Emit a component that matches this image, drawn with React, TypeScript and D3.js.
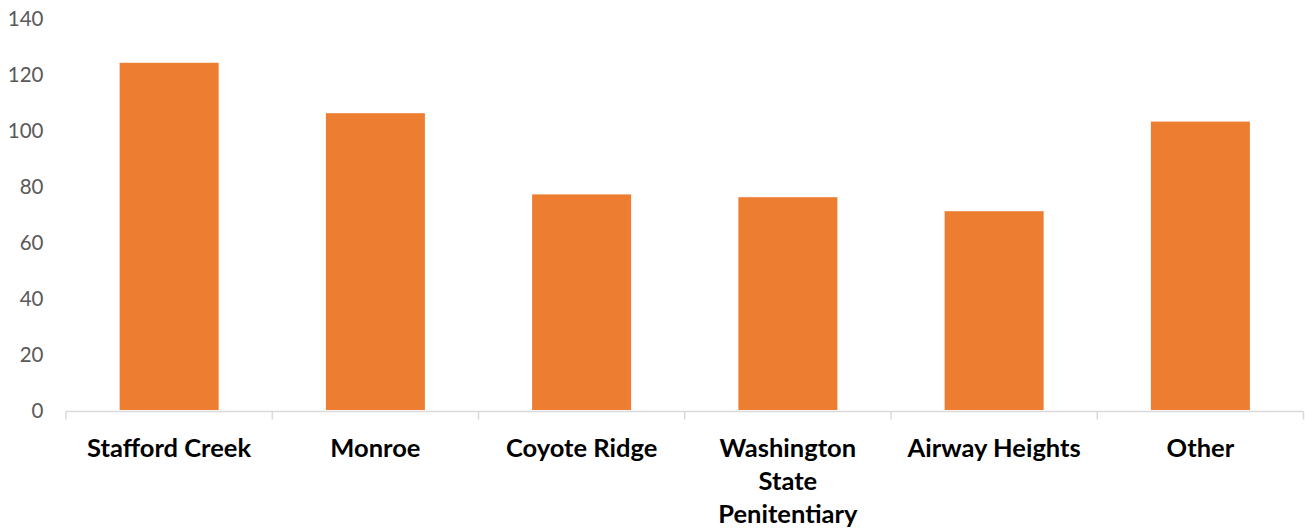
import React from "react";
import * as d3 from "d3";

const categories: string[][] = [
  ["Stafford Creek"],
  ["Monroe"],
  ["Coyote Ridge"],
  ["Washington", "State", "Penitentiary"],
  ["Airway Heights"],
  ["Other"],
];
const values: number[] = [124, 106, 77, 76, 71, 103];
const yTicks: number[] = [0, 20, 40, 60, 80, 100, 120, 140];

const W = 1305;
const H = 531;
const margin = { left: 66, right: 1.5, top: 18, bottom: 121 };

export default function App() {
  const keys = categories.map((c) => c.join(" "));
  const x = d3
    .scaleBand<string>()
    .domain(keys)
    .range([margin.left, W - margin.right])
    .paddingInner(0.52)
    .paddingOuter(0.26);
  const band = (W - margin.right - margin.left) / keys.length;
  const y = d3.scaleLinear().domain([0, 140]).range([H - margin.bottom, margin.top]);
  const y0 = y(0);
  const axisY = y0 + 1.5;
  const font = "Lato, 'Open Sans', sans-serif";

  return (
    <svg
      width={W}
      height={H}
      style={{ position: "absolute", left: 0, top: 0, background: "#fff" }}
    >
      {yTicks.map((t) => (
        <text
          key={t}
          x={43.5}
          y={y(t) + 1}
          dy="0.35em"
          textAnchor="end"
          fontFamily={font}
          fontSize={20.5}
          fill="#595959"
        >
          {t}
        </text>
      ))}
      {values.map((v, i) => (
        <rect
          key={keys[i]}
          x={x(keys[i])}
          y={y(v)}
          width={x.bandwidth()}
          height={y0 - y(v)}
          fill="#ED7D31"
        />
      ))}
      <line
        x1={margin.left}
        x2={W - margin.right}
        y1={axisY}
        y2={axisY}
        stroke="#D9D9D9"
        strokeWidth={1.5}
      />
      {d3.range(keys.length + 1).map((i) => (
        <line
          key={i}
          x1={margin.left + i * band}
          x2={margin.left + i * band}
          y1={axisY}
          y2={axisY + 8}
          stroke="#D9D9D9"
          strokeWidth={1.5}
        />
      ))}
      {categories.map((lines, i) => (
        <text
          key={keys[i]}
          textAnchor="middle"
          fontFamily={font}
          fontWeight="bold"
          fontSize={25.5}
          fill="#000"
        >
          {lines.map((l, j) => (
            <tspan key={j} x={(x(keys[i]) as number) + x.bandwidth() / 2} y={456.5 + j * 33}>
              {l}
            </tspan>
          ))}
        </text>
      ))}
    </svg>
  );
}
